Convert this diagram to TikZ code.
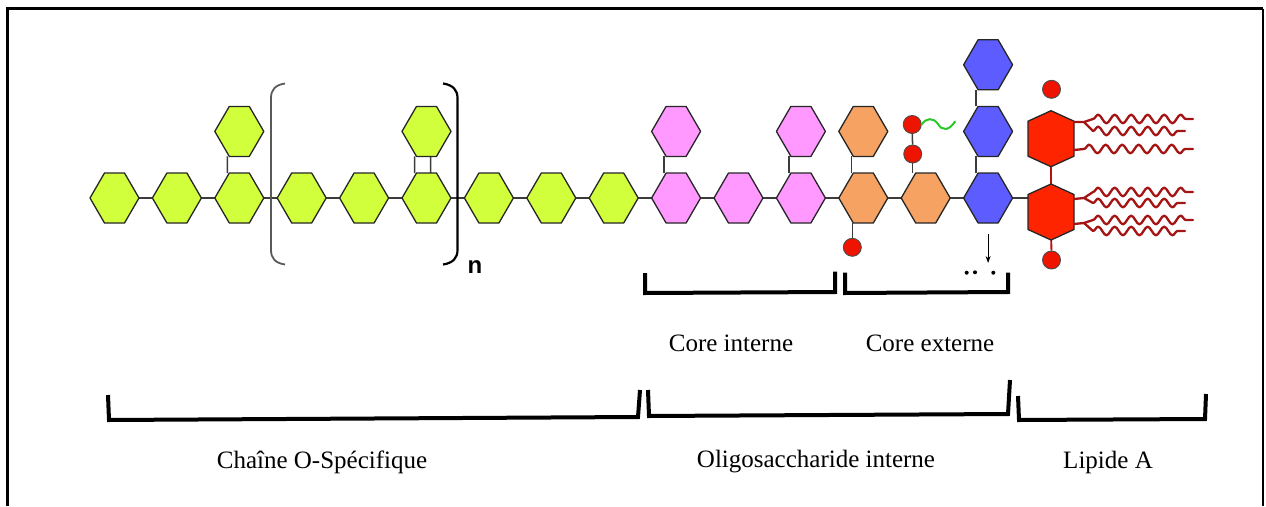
\documentclass[tikz,border=0pt]{standalone}
\usepackage{fontspec}
\setmainfont{Liberation Serif}
\newfontfamily\labelsans{Liberation Sans}
\usetikzlibrary{decorations.pathmorphing,arrows.meta}

\definecolor{sugarGreen}{RGB}{210,255,60}
\definecolor{sugarPink}{RGB}{255,153,255}
\definecolor{sugarOrange}{RGB}{245,162,98}
\definecolor{sugarBlue}{RGB}{92,92,255}
\definecolor{lipidRed}{RGB}{255,36,0}
\definecolor{chainRed}{RGB}{165,20,20}
\definecolor{phosRed}{RGB}{238,20,0}
\definecolor{waveGreen}{RGB}{40,200,40}
\definecolor{linkGray}{RGB}{60,60,60}

% flat-topped sugar ring around a named node
\newcommand\sugar[2]{%
  \draw[hexline,fill=#2] (#1.center) +(-24.5,0) -- +(-10,-25) -- +(10,-25)
    -- +(24.5,0) -- +(10,25) -- +(-10,25) -- cycle;}
% pointed-top glucosamine ring of lipid A
\newcommand\lipidring[1]{%
  \draw[hexline,fill=lipidRed] (#1.center) +(0,-28) -- +(23,-17.5) -- +(23,17.5)
    -- +(0,28) -- +(-23,17.5) -- +(-23,-17.5) -- cycle;}

\begin{document}
\begin{tikzpicture}[x=1pt,y=-1pt,
  hexbox/.style={minimum width=49pt,minimum height=50pt,inner sep=0pt,outer sep=0pt},
  ringbox/.style={minimum width=46pt,minimum height=56pt,inner sep=0pt,outer sep=0pt},
  hexline/.style={draw=black!85,line width=1.3pt,line join=round},
  link/.style={draw=linkGray,line width=1.5pt},
  redlink/.style={draw=chainRed!80!red,line width=1.8pt},
  phos/.style={circle,draw=black!70,line width=0.9pt,fill=phosRed,minimum size=18pt,inner sep=0pt},
  lipid/.style={draw=chainRed,line width=2.3pt,line cap=round,line join=round},
  wavy/.style={lipid,decorate,decoration={snake,segment length=16.5pt,amplitude=4.3pt}},
  brace/.style={draw=black,line width=4pt,line join=miter},
  label/.style={font=\fontsize{25}{30}\selectfont,inner sep=0pt}]

\useasboundingbox (0,0) rectangle (1266,506);

% frame
\draw[line width=2.5pt] (7.5,506) -- (7.5,8.5) -- (1263,8.5);
\draw[line width=1.2pt] (1263,8.5) -- (1263,506);

% main chain positions
\foreach \i in {1,...,9}
  \node[hexbox] (g\i) at ({114.5+62.4*(\i-1)},198) {};
\node[hexbox] (p1) at (676.1,198) {};
\node[hexbox] (p2) at (738.5,198) {};
\node[hexbox] (p3) at (800.9,198) {};
\node[hexbox] (o1) at (863.3,198) {};
\node[hexbox] (o2) at (925.7,198) {};
\node[hexbox] (b1) at (988.1,198) {};
% branches
\node[hexbox] (gt1) at (239.3,131.4) {};
\node[hexbox] (gt2) at (426.5,131.4) {};
\node[hexbox] (pt1) at (676.1,131.4) {};
\node[hexbox] (pt2) at (800.9,131.4) {};
\node[hexbox] (ot)  at (863.3,131.4) {};
\node[hexbox] (b2)  at (988.1,131.4) {};
\node[hexbox] (b3)  at (988.1,64.8) {};
% lipid A
\node[ringbox] (rA) at (1051,138.7) {};
\node[ringbox] (rB) at (1051,212) {};
\node[phos] (cA) at (1051.5,89.3) {};
\node[phos] (cB) at (1051.5,260) {};
% phosphates of the outer core
\node[phos] (c1) at (852.3,247.3) {};
\node[phos] (c2) at (912.7,154) {};
\node[phos] (c3) at (912.2,124.5) {};

% glycosidic links along the chain
\foreach \a/\b in {g1/g2,g2/g3,g3/g4,g4/g5,g5/g6,g6/g7,g7/g8,g8/g9,g9/p1,p1/p2,p2/p3,p3/o1,o1/o2,o2/b1}
  \draw[link] (\a) -- (\b);
\draw[link] (b1.east) -- (b1.east -| rB.west);
% branch links
\draw[link] ([xshift=-12pt]g3.north) -- ([xshift=-12pt]gt1.south);
\draw[link] ([xshift=-12pt]g6.north) -- ([xshift=-12pt]gt2.south);
\draw[link] ([xshift=4pt]g6.north) -- ([xshift=4pt]gt2.south);
\draw[link] ([xshift=-12pt]p1.north) -- ([xshift=-12pt]pt1.south);
\draw[link] ([xshift=-12pt]p3.north) -- ([xshift=-12pt]pt2.south);
\draw[link] ([xshift=-12pt]o1.north) -- ([xshift=-12pt]ot.south);
\draw[link] ([xshift=-11pt]o1.south) -- (c1);
\draw[link] ([xshift=-13pt]o2.north) -- (c2);
\draw[link] (c2) -- (c3);
\draw[link] ([xshift=-12pt]b1.north) -- ([xshift=-12pt]b2.south);
\draw[link] ([xshift=-12pt]b2.north) -- ([xshift=-12pt]b3.south);
\draw[redlink] (rA) -- (rB);
\draw[redlink] (rB) -- (cB);

% sugar rings
\foreach \n in {g1,g2,g3,g4,g5,g6,g7,g8,g9,gt1,gt2} { \sugar{\n}{sugarGreen} }
\foreach \n in {p1,p2,p3,pt1,pt2} { \sugar{\n}{sugarPink} }
\foreach \n in {o1,o2,ot} { \sugar{\n}{sugarOrange} }
\foreach \n in {b1,b2,b3} { \sugar{\n}{sugarBlue} }
\lipidring{rA}
\lipidring{rB}

% ethanolamine tail on the phosphate
\draw[draw=waveGreen,line width=2pt,line cap=round]
  (c3.east) .. controls (926,118) and (933,117) .. (938,124)
            .. controls (942,131) and (949,131) .. (955,121.5);

% fatty acyl chains
\draw[lipid] (1074,122) -- (1084,122) -- (1093,119);
\draw[lipid] (1084,122) -- (1093,131);
\draw[wavy] (1093,119) -- (1193,119);
\draw[wavy] (1093,131) -- (1185,131);
\draw[lipid] (1074,150) -- (1084,149);
\draw[wavy] (1084,149) -- (1193,149);
\draw[lipid] (1074,199) -- (1084,198) -- (1093,192);
\draw[lipid] (1084,198) -- (1093,203);
\draw[wavy] (1093,192) -- (1193,192);
\draw[wavy] (1093,203) -- (1185,203);
\draw[lipid] (1074,224) -- (1084,223) -- (1093,220);
\draw[lipid] (1084,223) -- (1093,231);
\draw[wavy] (1093,220) -- (1193,220);
\draw[wavy] (1093,231) -- (1185,231);

% repeat-unit brackets
\draw[draw=black!65,line width=1.8pt]
  (285,83.5) .. controls (275,85) and (271,90) .. (271,98) -- (271,250)
  .. controls (271,258) and (275,263) .. (285,264.5);
\draw[draw=black,line width=2.2pt]
  (443,83.5) .. controls (453,85) and (457.5,90) .. (457.5,98) -- (457.5,250)
  .. controls (457.5,258) and (453,263) .. (443,264.5);
\node[inner sep=0pt,font=\labelsans\bfseries\fontsize{24}{28}\selectfont] (nlab) at (475,267) {n};

% continuation of the outer core
\draw[-{Stealth[length=7pt,width=5pt]},line width=0.9pt] ([yshift=-11pt]b1.south) -- ++(0,29);
\fill (966.7,272.7) circle (2) (975,272.3) circle (2) (993.3,272.7) circle (2);

% core braces
\draw[brace] (645,273) -- (645,293) -- (835,292) -- (835,271.5);
\draw[brace] (845,272.5) -- (845,293) -- (1008,292) -- (1008,272.5);
\node[label] (ci) at (731,343) {Core interne};
\node[label] (ce) at (930,343) {Core externe};

% region braces
\draw[brace] (108,395) -- (109,420) -- (638,417) -- (640,390);
\draw[brace] (648,390) -- (649,416) -- (1008,414) -- (1010,380);
\draw[brace] (1018,396) -- (1019,420) -- (1205,419) -- (1206,394);
\node[label] (lo) at (322,462) {Chaîne O-Spécifique};
\node[label] (lc) at (816,462) {Oligosaccharide interne};
\node[label] (ll) at (1108,462) {Lipide A};
\end{tikzpicture}
\end{document}
